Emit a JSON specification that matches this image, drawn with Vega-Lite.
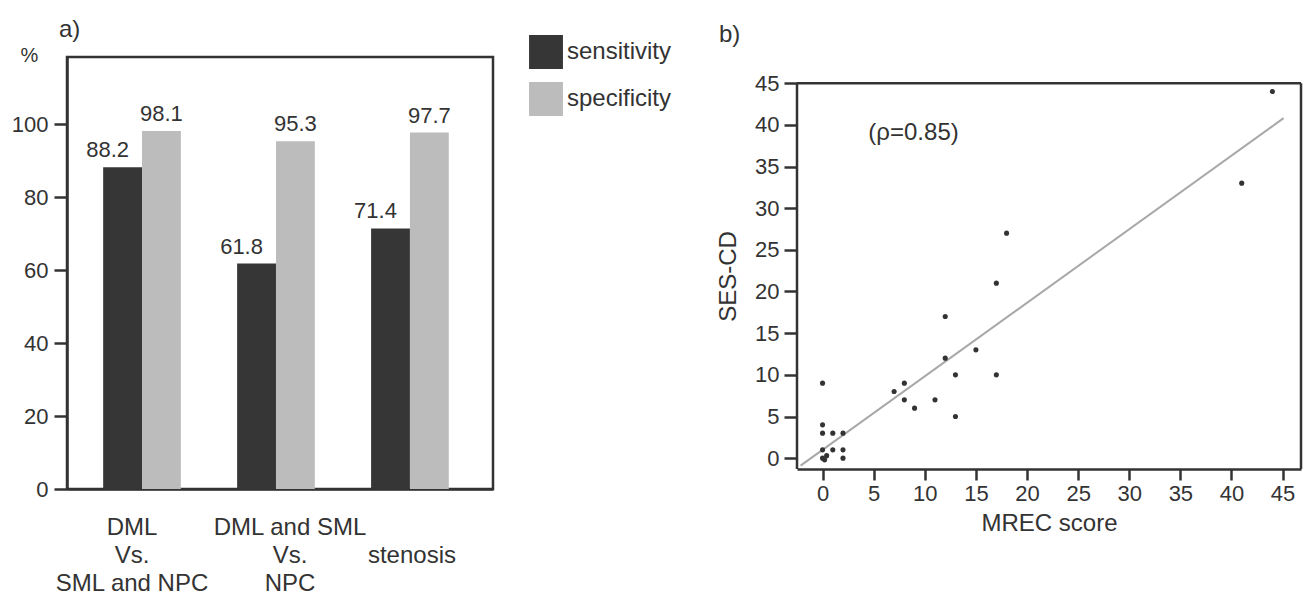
{
  "$schema": "https://vega.github.io/schema/vega-lite/v6.json",
  "background": "white",
  "padding": {"left": 10, "top": 16, "right": 0, "bottom": 0},
  "columns": 2,
  "align": "none",
  "spacing": 221,
  "config": {
    "font": "Liberation Sans",
    "view": {"stroke": "#333333", "strokeWidth": 2.5},
    "axis": {
      "grid": false,
      "domainColor": "#333333",
      "domainWidth": 2.5,
      "tickColor": "#333333",
      "tickWidth": 2.5,
      "labelColor": "#333333",
      "titleColor": "#333333",
      "labelFontSize": 22,
      "titleFontSize": 24,
      "titleFontWeight": "normal"
    },
    "title": {"fontSize": 24, "fontWeight": "normal", "color": "#333333"}
  },
  "concat": [
    {
      "width": 426,
      "height": 432,
      "title": {"text": "a)", "anchor": "start", "frame": "group", "dx": -8, "offset": 3},
      "data": {
        "values": [
          {"group": "DML Vs. SML and NPC", "measure": "sensitivity", "value": 88.2},
          {"group": "DML Vs. SML and NPC", "measure": "specificity", "value": 98.1},
          {"group": "DML and SML Vs. NPC", "measure": "sensitivity", "value": 61.8},
          {"group": "DML and SML Vs. NPC", "measure": "specificity", "value": 95.3},
          {"group": "stenosis", "measure": "sensitivity", "value": 71.4},
          {"group": "stenosis", "measure": "specificity", "value": 97.7}
        ]
      },
      "encoding": {
        "x": {
          "field": "group",
          "type": "nominal",
          "sort": ["DML Vs. SML and NPC", "DML and SML Vs. NPC", "stenosis"],
          "scale": {"paddingInner": 0.42, "paddingOuter": 0.3, "align": 0.45},
          "axis": {
            "title": null,
            "labelAngle": 0,
            "ticks": false,
            "labelPadding": 26,
            "labelFontSize": 24,
            "labelLineHeight": 28,
            "labelBaseline": "top",
            "labelLimit": 0,
            "labelOffset": {"expr": "datum.value == 'DML Vs. SML and NPC' ? -10 : (datum.value == 'stenosis' ? 2 : 14)"},
            "labelExpr": "datum.value == 'stenosis' ? ['', 'stenosis'] : split(replace(datum.value, ' Vs. ', '|Vs.|'), '|')"
          }
        },
        "xOffset": {"field": "measure", "type": "nominal", "sort": ["sensitivity", "specificity"]},
        "y": {
          "field": "value",
          "type": "quantitative",
          "scale": {"domain": [0, 118.4], "nice": false},
          "axis": {
            "values": [0, 20, 40, 60, 80, 100],
            "tickSize": 13,
            "labelPadding": 6,
            "title": "%",
            "titleAngle": 0,
            "titleX": -38,
            "titleY": -2,
            "titleAlign": "center",
            "titleBaseline": "middle",
            "titleFontSize": 20
          }
        }
      },
      "layer": [
        {
          "mark": {"type": "bar"},
          "encoding": {
            "color": {
              "field": "measure",
              "type": "nominal",
              "scale": {"domain": ["sensitivity", "specificity"], "range": ["#363636", "#bcbcbc"]},
              "legend": {
                "orient": "none",
                "legendX": 462,
                "legendY": -22,
                "title": null,
                "symbolType": "square",
                "symbolSize": 1150,
                "symbolStrokeWidth": 0,
                "labelFontSize": 24,
                "labelColor": "#333333",
                "rowPadding": 13,
                "labelOffset": 4,
                "padding": 0
              }
            }
          }
        },
        {
          "transform": [{"filter": "datum.measure == 'sensitivity'"}],
          "mark": {"type": "text", "baseline": "bottom", "dy": -5, "dx": -15, "fontSize": 22, "color": "#333333"},
          "encoding": {"text": {"field": "value", "type": "quantitative", "format": ".1f"}}
        },
        {
          "transform": [{"filter": "datum.measure == 'specificity'"}],
          "mark": {"type": "text", "baseline": "bottom", "dy": -5, "fontSize": 22, "color": "#333333"},
          "encoding": {"text": {"field": "value", "type": "quantitative", "format": ".1f"}}
        }
      ]
    },
    {
      "width": 504,
      "height": 412,
      "view": {"stroke": null},
      "title": {"text": "b)", "anchor": "start", "frame": "group", "dx": -78, "offset": 10},
      "encoding": {
        "x": {
          "field": "x",
          "type": "quantitative",
          "scale": {"domain": [-2.5, 46.8], "nice": false, "zero": false},
          "axis": {
            "values": [0, 5, 10, 15, 20, 25, 30, 35, 40, 45],
            "tickSize": 11,
            "labelPadding": 3,
            "title": "MREC score",
            "titlePadding": 7
          }
        },
        "y": {
          "field": "y",
          "type": "quantitative",
          "scale": {"domain": [-1.3, 48.14], "nice": false, "zero": false},
          "axis": {
            "values": [0, 5, 10, 15, 20, 25, 30, 35, 40, 45],
            "domain": false,
            "tickSize": 13,
            "labelPadding": 5,
            "title": "SES-CD",
            "titlePadding": 14,
            "titleY": 219
          }
        }
      },
      "layer": [
        {
          "data": {"values": [{"x": 8.9, "y": 39, "label": "(ρ=0.85)"}]},
          "mark": {"type": "rule", "color": "#333333", "strokeWidth": 2.5},
          "encoding": {"x": {"datum": -2.5, "type": "quantitative"}, "x2": {"datum": 46.8}, "y": {"datum": 45, "type": "quantitative"}}
        },
        {
          "data": {"values": [{"x": 8.9, "y": 39, "label": "(ρ=0.85)"}]},
          "mark": {"type": "rule", "color": "#333333", "strokeWidth": 2.5},
          "encoding": {"x": {"datum": -2.5, "type": "quantitative"}, "y": {"datum": -1.3, "type": "quantitative"}, "y2": {"datum": 45}}
        },
        {
          "data": {"values": [{"x": 8.9, "y": 39, "label": "(ρ=0.85)"}]},
          "mark": {"type": "rule", "color": "#333333", "strokeWidth": 2.5},
          "encoding": {"x": {"datum": 46.8, "type": "quantitative"}, "y": {"datum": -1.3, "type": "quantitative"}, "y2": {"datum": 45}}
        },
        {
          "data": {"values": [{"x": -2.15, "y": -0.9}, {"x": 45.1, "y": 40.8}]},
          "mark": {"type": "line", "color": "#a8a8a8", "strokeWidth": 2}
        },
        {
          "data": {
            "values": [
              {"x": 44, "y": 44}, {"x": 41, "y": 33}, {"x": 18, "y": 27}, {"x": 17, "y": 21},
              {"x": 12, "y": 17}, {"x": 15, "y": 13}, {"x": 12, "y": 12}, {"x": 13, "y": 10},
              {"x": 17, "y": 10}, {"x": 0, "y": 9}, {"x": 8, "y": 9}, {"x": 7, "y": 8},
              {"x": 8, "y": 7}, {"x": 9, "y": 6}, {"x": 11, "y": 7}, {"x": 13, "y": 5},
              {"x": 0, "y": 4}, {"x": 0, "y": 3}, {"x": 1, "y": 3}, {"x": 2, "y": 3},
              {"x": 0, "y": 1}, {"x": 1, "y": 1}, {"x": 2, "y": 1}, {"x": 0, "y": 0},
              {"x": 0.4, "y": 0.3}, {"x": 0.2, "y": -0.2}, {"x": 2, "y": 0}
            ]
          },
          "mark": {"type": "circle", "size": 26, "color": "#333333", "opacity": 1}
        },
        {
          "data": {"values": [{"x": 8.9, "y": 39, "label": "(ρ=0.85)"}]},
          "mark": {"type": "text", "fontSize": 24, "color": "#333333"},
          "encoding": {"text": {"field": "label", "type": "nominal"}}
        }
      ]
    }
  ]
}
